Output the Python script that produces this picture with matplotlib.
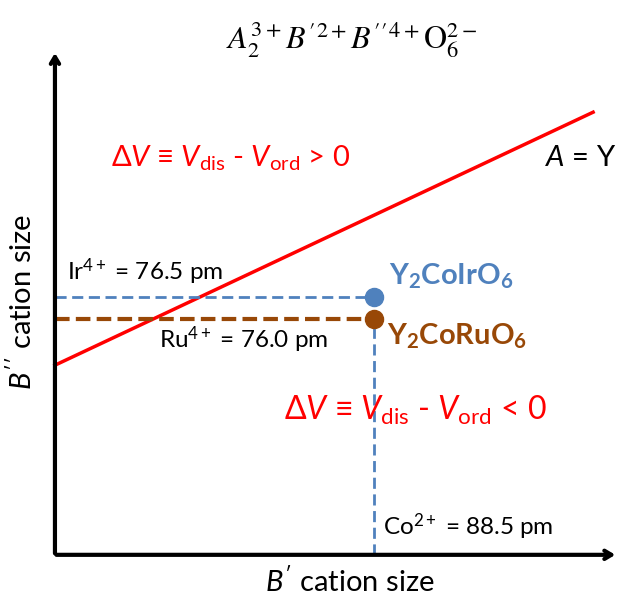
import matplotlib.pyplot as plt

plt.rcParams['mathtext.fontset'] = 'custom'
plt.rcParams['mathtext.rm'] = 'Lato'
plt.rcParams['mathtext.it'] = 'Lato:italic'
plt.rcParams['mathtext.bf'] = 'Lato:bold'
fam = ['Lato', 'DejaVu Sans']

# sizes in pm
ir_size = 76.5
ru_size = 76.0
co_size = 88.5

# schematic axis extent and A = Y boundary line
axis_x = [81.23, 94.07]
axis_y = [70.64, 82.11]
boundary_x = [81.23, 93.5]
boundary_y = [74.95, 80.7]

blue = '#4F81BD'
brown = '#984807'

fig = plt.figure(figsize=(6.26, 5.99), dpi=100)
ax = fig.add_axes([0, 0, 1, 1])
ax.set_xlim(79.977, 94.25)
ax.set_ylim(69.636, 83.25)
ax.axis('off')

x0, y0 = axis_x[0], axis_y[0]
ax.annotate('', xy=(axis_x[1], y0), xytext=(x0 - 0.03, y0),
            arrowprops=dict(arrowstyle='->,head_length=0.5,head_width=0.3', lw=3, color='black'))
ax.annotate('', xy=(x0, axis_y[1]), xytext=(x0, y0 - 0.03),
            arrowprops=dict(arrowstyle='->,head_length=0.5,head_width=0.3', lw=3, color='black'))

ax.plot(boundary_x, boundary_y, color='red', lw=2.5)

ax.plot([x0, co_size], [ir_size, ir_size], color=blue, lw=2, ls=(0, (4, 2)))
ax.plot([co_size, co_size], [y0, ir_size], color=blue, lw=2, ls=(0, (4, 2)))
ax.plot([x0, co_size], [ru_size, ru_size], color=brown, lw=3, ls=(0, (3.5, 1.5)))
ax.plot([co_size], [ir_size], 'o', color=blue, ms=13, zorder=5)
ax.plot([co_size], [ru_size], 'o', color=brown, ms=13, zorder=5)

ax.text(88.0, 82.35, r"$A_2^{3+}B'^{2+}B''^{4+}{\rm O}_6^{2-}$", fontsize=23,
        ha='center', va='center', math_fontfamily='stix')

ax.text(82.5, 79.66, r'$\Delta \mathit{V}$ ≡ $\mathit{V}_{\rm dis}$ - $\mathit{V}_{\rm ord}$ > 0',
        color='red', fontsize=21, family=fam, va='center')
ax.text(86.45, 73.93, r'$\Delta \mathit{V}$ ≡ $\mathit{V}_{\rm dis}$ - $\mathit{V}_{\rm ord}$ < 0',
        color='red', fontsize=23, family=fam, va='center')
ax.text(92.4, 79.66, r'$\mathit{A}$ = Y', fontsize=21, family=fam, va='center')

ax.text(81.5, ir_size + 0.58, r'Ir$^{4+}$ = 76.5 pm', fontsize=17.5, family=fam, va='center')
ax.text(83.6, ru_size - 0.47, r'Ru$^{4+}$ = 76.0 pm', fontsize=17.5, family=fam, va='center')
ax.text(co_size + 0.2, 71.27, r'Co$^{2+}$ = 88.5 pm', fontsize=17.5, family=fam, va='center')

ax.text(co_size + 0.35, ir_size + 0.47, r'$\mathbf{Y_2CoIrO_6}$', color=blue, fontsize=21, va='center')
ax.text(co_size + 0.3, ru_size - 0.4, r'$\mathbf{Y_2CoRuO_6}$', color=brown, fontsize=21, va='center')

ax.text(87.95, 70.03, r"$\mathit{B'}$ cation size", fontsize=21, family=fam, ha='center', va='center')
ax.text(80.47, 76.39, r"$\mathit{B''}$ cation size", fontsize=21, family=fam, ha='center',
        va='center', rotation=90)

fig.savefig('out.png', dpi=100)
